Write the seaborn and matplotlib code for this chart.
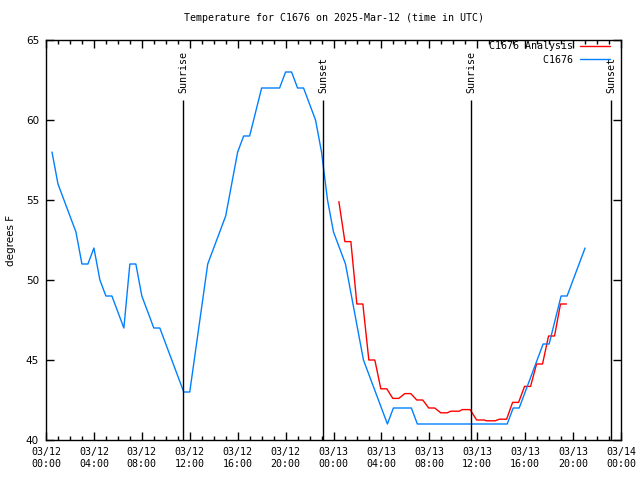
import numpy as np
import pandas as pd
import seaborn as sns
import matplotlib.pyplot as plt
from matplotlib.ticker import MultipleLocator

# hours after 2025-03-12 00:00 UTC, temperature in degrees F
obs_hours = [0.5, 1.0, 2.5, 3.0, 3.5, 4.0, 4.5, 5.0, 5.5, 6.5, 7.0, 7.5, 8.0, 9.0, 9.5,
             11.5, 12.0, 13.5, 14.0, 15.0, 16.0, 16.5, 17.0, 18.0, 19.5, 20.0, 20.5,
             21.0, 21.5, 22.5, 23.0, 23.5, 24.0, 24.5, 25.0, 26.5, 28.5, 29.0, 30.5,
             31.0, 38.5, 39.0, 39.5, 41.5, 42.0, 43.0, 43.5, 45.0]
obs_temp = [58, 56, 53, 51, 51, 52, 50, 49, 49, 47, 51, 51, 49, 47, 47,
            43, 43, 51, 52, 54, 58, 59, 59, 62, 62, 63, 63,
            62, 62, 60, 58, 55, 53, 52, 51, 45, 41, 42, 42,
            41, 41, 42, 42, 46, 46, 49, 49, 52]

an_hours = [24.45, 24.95, 25.45, 25.95, 26.45, 26.95, 27.45, 27.95, 28.45, 28.95,
            29.45, 29.95, 30.45, 30.95, 31.45, 31.95, 32.45, 32.95, 33.5, 33.8,
            34.5, 34.75, 35.4, 35.95, 36.6, 36.75, 37.5, 37.85, 38.45, 38.95,
            39.45, 39.95, 40.45, 40.95, 41.45, 41.95, 42.45, 42.95, 43.45]
an_temp = [54.9, 52.4, 52.4, 48.5, 48.5, 45.0, 45.0, 43.2, 43.2, 42.6,
           42.6, 42.9, 42.9, 42.5, 42.5, 42.0, 42.0, 41.7, 41.7, 41.8,
           41.8, 41.9, 41.9, 41.25, 41.25, 41.2, 41.2, 41.3, 41.3, 42.35,
           42.35, 43.35, 43.35, 44.75, 44.75, 46.5, 46.5, 48.5, 48.5]

sun_labels = ['Sunrise', 'Sunset', 'Sunrise', 'Sunset']
sun_hours = [11.43, 23.12, 35.47, 47.16]

x_ticks = np.arange(0, 49, 4)
x_labels = ['03/12\n00:00', '03/12\n04:00', '03/12\n08:00', '03/12\n12:00', '03/12\n16:00',
            '03/12\n20:00', '03/13\n00:00', '03/13\n04:00', '03/13\n08:00', '03/13\n12:00',
            '03/13\n16:00', '03/13\n20:00', '03/14\n00:00']

df = pd.concat([
    pd.DataFrame({'hours': an_hours, 'temp': an_temp, 'series': 'C1676 Analysis'}),
    pd.DataFrame({'hours': obs_hours, 'temp': obs_temp, 'series': 'C1676'}),
])

sns.set_style('ticks')
plt.rcParams['font.family'] = ['DejaVu Sans Mono']
plt.rcParams['text.color'] = 'black'
plt.rcParams['xtick.color'] = 'black'
plt.rcParams['ytick.color'] = 'black'
plt.rcParams['axes.labelcolor'] = 'black'
mono = 7.2

fig = plt.figure(figsize=(6.4, 4.8), dpi=100)
ax = fig.add_axes([46/640, 40/480, 575/640, 400/480])

sns.lineplot(data=df, x='hours', y='temp', hue='series',
             hue_order=['C1676 Analysis', 'C1676'],
             palette={'C1676 Analysis': '#ff0000', 'C1676': '#0080ff'},
             estimator=None, sort=False, lw=1, ax=ax)

for h, lab in zip(sun_hours, sun_labels):
    ax.vlines(h, 40, 61.25, color='black', lw=1)
    ax.text(h, 61.7, lab, rotation=90, ha='center', va='bottom', fontsize=mono)

ax.set_xlim(0, 48)
ax.set_ylim(40, 65)
ax.set_xticks(x_ticks)
ax.set_xticklabels(x_labels, fontsize=mono)
ax.xaxis.set_minor_locator(MultipleLocator(1))
ax.set_yticks(np.arange(40, 66, 5))
ax.set_yticklabels([str(v) for v in range(40, 66, 5)], fontsize=7.5, family='DejaVu Sans')
ax.tick_params(which='both', direction='in', top=True, right=True, width=1, color='black')
ax.tick_params(which='major', length=6)
ax.tick_params(which='minor', length=3)
ax.tick_params(axis='x', pad=5)
ax.tick_params(axis='y', pad=5)
for s in ax.spines.values():
    s.set_linewidth(1)
    s.set_color('black')

ax.set_xlabel('')
ax.set_ylabel('degrees F', fontsize=7.5, family='DejaVu Sans')
ax.yaxis.set_label_coords(-0.052, 0.5)
ax.set_title('Temperature for C1676 on 2025-Mar-12 (time in UTC)', fontsize=mono, pad=14)

handles, labels = ax.get_legend_handles_labels()
ax.legend(handles, ['C1676 Analysis', '         C1676'], loc='upper right',
          bbox_to_anchor=(0.981, 0.997), frameon=False, markerfirst=False,
          prop={'size': mono, 'family': 'DejaVu Sans Mono'},
          handlelength=3, handletextpad=0.7, labelspacing=0.35, borderpad=0, borderaxespad=0)

fig.savefig('out.png', dpi=100)
